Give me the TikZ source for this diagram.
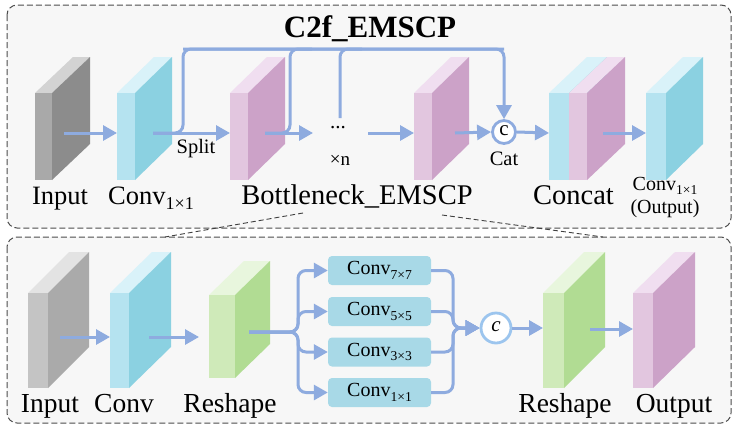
\documentclass[tikz,border=0pt]{standalone}
\usepackage{fontspec}
\setmainfont{Liberation Serif}
\usetikzlibrary{arrows.meta}
\definecolor{gAF}{HTML}{A9A9A9}\definecolor{gAS}{HTML}{8C8C8C}\definecolor{gAT}{HTML}{D3D3D3}
\definecolor{gBF}{HTML}{C4C4C4}\definecolor{gBS}{HTML}{AAAAAA}\definecolor{gBT}{HTML}{E3E3E3}
\definecolor{cyF}{HTML}{B5E3F0}\definecolor{cyS}{HTML}{8BD1E1}\definecolor{cyT}{HTML}{D9F2F9}
\definecolor{pkF}{HTML}{E2C6DF}\definecolor{pkS}{HTML}{CCA2C8}\definecolor{pkT}{HTML}{F0DEF0}
\definecolor{gnF}{HTML}{CFEAB9}\definecolor{gnS}{HTML}{B1DC93}\definecolor{gnT}{HTML}{E8F6DD}
\definecolor{arrc}{HTML}{8EABDF}
\definecolor{boxc}{HTML}{A8D9E7}
\definecolor{panelc}{HTML}{F7F7F7}
\definecolor{circc}{HTML}{9CC5EE}
\newcommand\slab[8]{%
  \fill[#8T] (#2,#4) -- (#2+#6,#4-#7) -- (#3+#6,#4-#7) -- (#3,#4) -- cycle;
  \fill[#8S] (#3,#4) -- (#3+#6,#4-#7) -- (#3+#6,#5-#7) -- (#3,#5) -- cycle;
  \fill[#8F] (#2,#4) rectangle (#3,#5);
  \coordinate (#1) at (#2,#4);}
\newcommand\sbx[1]{\raisebox{-0.22em}{\scalebox{0.68}{#1}}}
\begin{document}
\begin{tikzpicture}[x=1pt,y=-1pt,
  panel/.style={draw=black!70,fill=panelc,line width=1pt,dash pattern=on 6pt off 3pt,rounded corners=10pt},
  zoomline/.style={draw=black!75,line width=0.9pt,dash pattern=on 5pt off 3pt},
  flow/.style={draw=arrc,line width=3pt,-{Triangle[length=14pt,width=15pt]}},
  plain/.style={draw=arrc,line width=3pt},
  lblA/.style={font=\fontsize{26.5}{28}\selectfont,anchor=base,inner sep=0pt},
  lblW/.style={font=\fontsize{28.5}{30}\selectfont,anchor=base,inner sep=0pt},
  lblB/.style={font=\fontsize{27.5}{29}\selectfont,anchor=base,inner sep=0pt},
  small/.style={font=\fontsize{20}{22}\selectfont,anchor=base,inner sep=0pt},
  kbox/.style={fill=boxc,rounded corners=4pt,minimum width=103pt,minimum height=29pt,inner sep=0pt,font=\fontsize{20}{22}\selectfont}]
\useasboundingbox (0,0) rectangle (738,429);
% panels
\draw[panel] (7,5) rectangle (731,228);
\draw[panel] (7,237) rectangle (731,423);
% zoom lines
\coordinate (zl1) at (303,213); \coordinate (zl2) at (165,237);
\coordinate (zr1) at (442,215); \coordinate (zr2) at (603,237);
\draw[zoomline] (zl1) -- (zl2);
\draw[zoomline] (zr1) -- (zr2);
% ---------- top panel ----------
\node[font=\bfseries\fontsize{31}{33}\selectfont,anchor=base,inner sep=0pt] (title) at (370,37) {C2f\_EMSCP};
\slab{inA}{35}{52}{93}{180}{38}{36}{gA}
\slab{cvA}{117}{135}{93}{180}{37}{36}{cy}
\slab{bnA}{230}{248}{93}{180}{37}{36}{pk}
\slab{bnB}{414}{432}{93}{180}{37}{36}{pk}
\slab{ccA}{549}{569}{93}{180}{38}{36}{cy}
\slab{ccB}{569}{587}{93}{180}{38}{36}{pk}
\slab{cvO}{646}{666}{93}{180}{37}{36}{cy}
\coordinate (a1s) at (64,133);  \coordinate (a1e) at (117,133);
\coordinate (a2s) at (153,133); \coordinate (a2e) at (230,133);
\coordinate (a3s) at (265,133); \coordinate (a3e) at (313,133);
\coordinate (a4s) at (368,133); \coordinate (a4e) at (414,133);
\coordinate (a5s) at (455,133);
\coordinate (a6e) at (549,133);
\coordinate (a7s) at (603,133); \coordinate (a7e) at (646,133);
\coordinate (b1) at (183,133); \coordinate (b1t) at (183,49);
\coordinate (ct) at (504,49);
\coordinate (b2) at (290,133); \coordinate (b2t) at (290,49); \coordinate (b2r) at (312,49);
\coordinate (dtop) at (340,118); \coordinate (b3t) at (340,49); \coordinate (b3r) at (362,49);
\node[font=\fontsize{21}{21}\selectfont,inner sep=0pt] (dots) at (338,128) {...};
\node[circle,draw=arrc,line width=2.8pt,fill=white,minimum size=23pt,inner sep=0pt,font=\fontsize{21}{21}\selectfont] (cat) at (504,132) {\raisebox{0.1em}{c}};
\draw[plain,rounded corners=8pt] (a2s) -- (b1) -- (b1t) -- (ct);
\draw[plain,rounded corners=8pt] (a3s) -- (b2) -- (b2t) -- (b2r);
\draw[plain,rounded corners=8pt] (dtop) -- (b3t) -- (b3r);
\draw[flow,rounded corners=8pt] (b1t) -- (ct) -- (cat.north);
\draw[flow] (a1s) -- (a1e);
\draw[flow] (a2s) -- (a2e);
\draw[flow] (a3s) -- (a3e);
\draw[flow] (a4s) -- (a4e);
\draw[flow] (a5s) -- (cat.west);
\draw[flow] (cat.east) -- (a6e);
\draw[flow] (a7s) -- (a7e);
\node[small,font=\fontsize{20.5}{22}\selectfont] (split) at (196,153) {Split};
\node[small,font=\fontsize{19}{20}\selectfont] (xn) at (340,165) {×n};
\node[small,font=\fontsize{20.5}{22}\selectfont] (catl) at (504,165) {Cat};
\node[lblA] (tInput) at (60,204) {Input};
\node[lblA] (tConv) at (151,204) {Conv\sbx{1×1}};
\node[lblW] (tBn) at (357,204) {Bottleneck\_EMSCP};
\node[lblW] (tCat) at (573.5,204) {Concat};
\node[small] (tOut1) at (665,190) {Conv\sbx{1×1}};
\node[small] (tOut2) at (665,213) {(Output)};
% ---------- bottom panel ----------
\slab{inB}{28}{48}{293}{388}{41}{41}{gB}
\slab{cvB}{110}{129}{293}{388}{42}{41}{cy}
\slab{rsA}{209}{235}{295}{378}{35}{34}{gn}
\slab{rsB}{543}{564}{293}{388}{41}{41}{gn}
\slab{otB}{633}{653}{293}{388}{42}{41}{pk}
\node[kbox] (k7) at (379.5,270.5) {Conv\sbx{7×7}};
\node[kbox] (k5) at (379.5,311.5) {Conv\sbx{5×5}};
\node[kbox] (k3) at (379.5,352) {Conv\sbx{3×3}};
\node[kbox] (k1) at (379.5,392.5) {Conv\sbx{1×1}};
\node[circle,draw=circc,line width=2.8pt,fill=white,minimum size=30pt,inner sep=0pt,font=\itshape\fontsize{21}{21}\selectfont] (cc) at (496,328) {\raisebox{0.1em}{c}};
\coordinate (c1s) at (60,337);  \coordinate (c1e) at (110,337);
\coordinate (c2s) at (149,337); \coordinate (c2e) at (199,337);
\coordinate (tr) at (249,332);
\coordinate (sx7) at (298,332); \coordinate (sy7) at (298,270.5);
\coordinate (sy5) at (298,311.5);
\coordinate (sy3) at (298,352);
\coordinate (sy1) at (298,392.5);
\coordinate (mx7) at (453,270.5); \coordinate (mx5) at (453,311.5);
\coordinate (mx3) at (453,352); \coordinate (mx1) at (453,392.5);
\coordinate (mg) at (453,328);
\coordinate (c3e) at (543,328);
\coordinate (c4s) at (590,329); \coordinate (c4e) at (633,329);
\draw[flow] (c1s) -- (c1e);
\draw[flow] (c2s) -- (c2e);
\draw[flow,rounded corners=8pt] (tr) -- (sx7) -- (sy7) -- (k7.west);
\draw[flow,rounded corners=8pt] (tr) -- (sx7) -- (sy5) -- (k5.west);
\draw[flow,rounded corners=8pt] (tr) -- (sx7) -- (sy3) -- (k3.west);
\draw[flow,rounded corners=8pt] (tr) -- (sx7) -- (sy1) -- (k1.west);
\draw[flow,rounded corners=8pt] (k7.east) -- (mx7) -- (mg) -- (cc.west);
\draw[flow,rounded corners=8pt] (k5.east) -- (mx5) -- (mg) -- (cc.west);
\draw[flow,rounded corners=8pt] (k3.east) -- (mx3) -- (mg) -- (cc.west);
\draw[flow,rounded corners=8pt] (k1.east) -- (mx1) -- (mg) -- (cc.west);
\draw[flow] (cc.east) -- (c3e);
\draw[flow] (c4s) -- (c4e);
\node[lblB] (bInput) at (50,412) {Input};
\node[lblB] (bConv) at (124,412) {Conv};
\node[lblB] (bRs1) at (230,412) {Reshape};
\node[lblB] (bRs2) at (565,412) {Reshape};
\node[lblB] (bOut) at (674,412) {Output};
\end{tikzpicture}
\end{document}
